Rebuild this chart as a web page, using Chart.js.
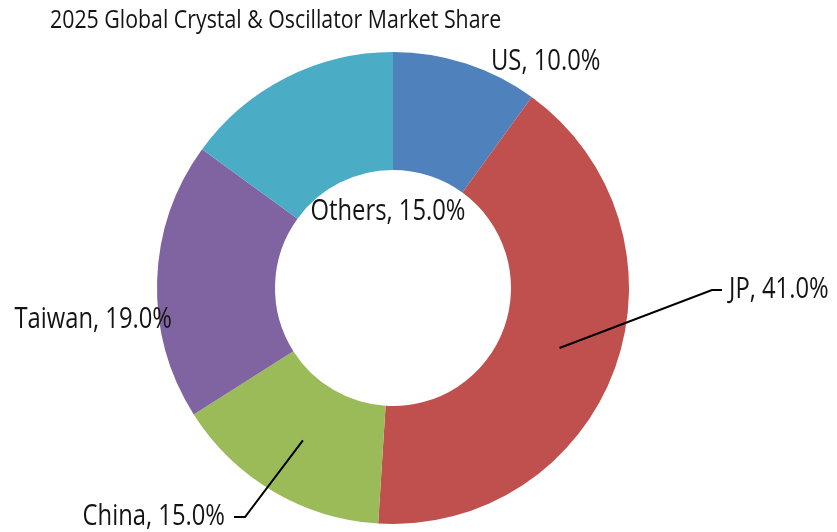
<!DOCTYPE html>
<html><head><meta charset="utf-8">
<script src="https://cdn.jsdelivr.net/npm/chart.js@4"></script>
<style>html,body{margin:0;padding:0;background:#fff;}#wrap{width:837px;height:532px;}</style>
</head><body><div id="wrap"><canvas id="c" width="837" height="532"></canvas></div>
<script>
const title = '2025 Global Crystal & Oscillator Market Share';
const categories = ['US', 'JP', 'China', 'Taiwan', 'Others'];
const shares = [10.0, 41.0, 15.0, 19.0, 15.0];
const colors = ['#4F81BD', '#C0504D', '#9BBB59', '#8064A2', '#4BACC6'];

const FONT = '"Open Sans", "Noto Sans", sans-serif';
const SX = 0.82; // horizontal condensing of the text

const labelLayout = [
  {dx: 98, dy: -226, align: 'left', leader: false},
  {dx: 336, dy: 2, align: 'left', leader: true, elbow: [319, 2], hook: 10},
  {dx: -168, dy: 229, align: 'right', leader: true, elbow: [-148, 229], hook: -11},
  {dx: -221, dy: 32, align: 'right', leader: false},
  {dx: -5, dy: -76, align: 'center', leader: false}
];

function drawText(ctx, txt, x, y, align) {
  ctx.save();
  ctx.translate(x, y);
  ctx.scale(SX, 1);
  ctx.textAlign = align;
  ctx.fillText(txt, 0, 0);
  ctx.restore();
}

const labelPlugin = {
  id: 'labels',
  afterDraw(chart) {
    const ctx = chart.ctx;
    ctx.save();
    ctx.fillStyle = '#141414';
    ctx.textBaseline = 'middle';
    ctx.font = '26px ' + FONT;
    drawText(ctx, title, 50, 21, 'left');
    const meta = chart.getDatasetMeta(0);
    const cx = meta.data[0].x, cy = meta.data[0].y;
    ctx.font = '29px ' + FONT;
    meta.data.forEach((arc, i) => {
      const L = labelLayout[i];
      const txt = categories[i] + ', ' + shares[i].toFixed(1) + '%';
      if (L.leader) {
        const p = arc.tooltipPosition();
        const ex = cx + L.elbow[0], ey = cy + L.elbow[1];
        ctx.strokeStyle = '#000';
        ctx.lineWidth = 2;
        ctx.beginPath();
        ctx.moveTo(p.x, p.y);
        ctx.lineTo(ex, ey);
        ctx.lineTo(ex + L.hook, ey);
        ctx.stroke();
      }
      drawText(ctx, txt, cx + L.dx, cy + L.dy, L.align);
    });
    ctx.restore();
  }
};

new Chart(document.getElementById('c'), {
  type: 'doughnut',
  data: {
    labels: categories,
    datasets: [{
      data: shares,
      backgroundColor: colors,
      borderWidth: 0
    }]
  },
  options: {
    responsive: false,
    animation: false,
    cutout: '50%',
    layout: {padding: {top: 52, bottom: 8, left: 157, right: 208}},
    plugins: {legend: {display: false}, tooltip: {enabled: false}, title: {display: false}}
  },
  plugins: [labelPlugin]
});
</script>
</body></html>
